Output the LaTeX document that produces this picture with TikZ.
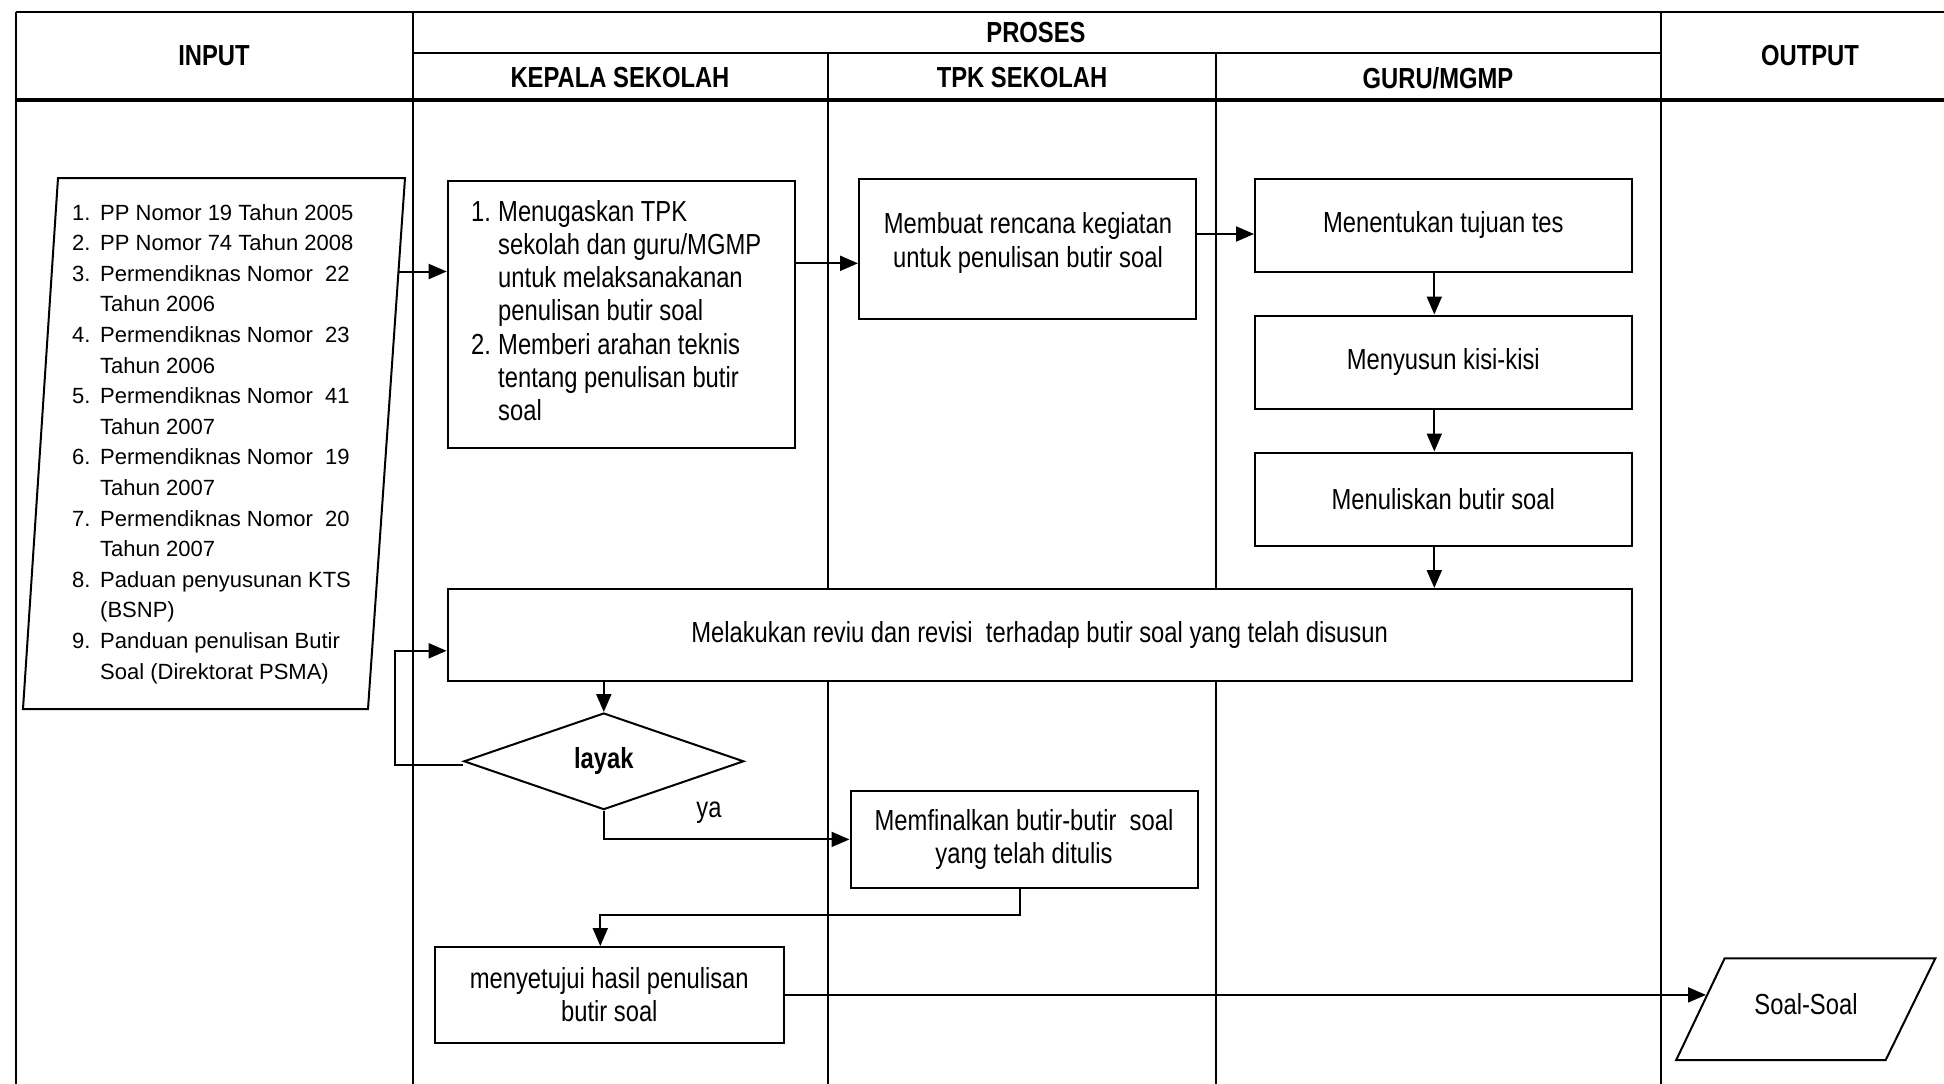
\documentclass[tikz,border=0pt]{standalone}
\usepackage{fontspec}
\setmainfont{Liberation Sans}
\newfontfamily\narrowsf[FakeStretch=0.82]{Liberation Sans}
\usetikzlibrary{arrows.meta,shapes.geometric,positioning}
\newcommand{\boxfont}{\narrowsf\fontsize{29}{33.3}\selectfont}
\newcommand{\listfont}{\fontsize{22}{30.6}\selectfont}

\begin{document}
\begin{tikzpicture}[x=1pt,y=-1pt,
    box/.style={draw,line width=2pt,fill=white,inner sep=0pt,align=center,font=\boxfont},
    head/.style={font=\boxfont\bfseries},
    lane/.style={line width=1.5pt},
    line/.style={line width=2pt},
    arr/.style={line width=2pt,-{Triangle[length=18pt,width=15pt]}}]

  \useasboundingbox (0,0) rectangle (1944,1084);

  % Swimlane frame
  \draw[line] (16,12) -- (1944,12);
  \draw[line width=2.5pt] (413,53) -- (1661,53);
  \draw[line width=4.5pt] (16,100) -- (1944,100);
  \draw[lane] (16,12) -- (16,1084);
  \draw[lane] (413,12) -- (413,1084);
  \draw[lane] (828,53) -- (828,1084);
  \draw[lane] (1216,53) -- (1216,1084);
  \draw[lane] (1661,12) -- (1661,1084);

  % Header labels
  \node[head] (hinput) at (214,56) {INPUT};
  \node[head] (hproses) at (1036,33) {PROSES};
  \node[head] (houtput) at (1810,56) {OUTPUT};
  \node[head] (hkepala) at (620,78) {KEPALA SEKOLAH};
  \node[head] (htpk) at (1022,78) {TPK SEKOLAH};
  \node[head] (hguru) at (1438,78) {GURU/MGMP};

  % Input
  \draw[line,fill=white] (58,178) -- (405,178) -- (368,709) -- (23,709) -- cycle;
  \coordinate (inR) at (398.5,271.5);
  \node[anchor=north west,inner sep=0pt,font=\listfont] (inlist) at (72,198.5) {%
    \begin{tabular}{@{}p{28pt}@{}l@{}}
      1. & PP Nomor 19 Tahun 2005\\
      2. & PP Nomor 74 Tahun 2008\\
      3. & Permendiknas Nomor\ \ 22\\
         & Tahun 2006\\
      4. & Permendiknas Nomor\ \ 23\\
         & Tahun 2006\\
      5. & Permendiknas Nomor\ \ 41\\
         & Tahun 2007\\
      6. & Permendiknas Nomor\ \ 19\\
         & Tahun 2007\\
      7. & Permendiknas Nomor\ \ 20\\
         & Tahun 2007\\
      8. & Paduan penyusunan KTS\\
         & (BSNP)\\
      9. & Panduan penulisan Butir\\
         & Soal (Direktorat PSMA)
    \end{tabular}};

  % Kepala sekolah
  \node[box,minimum width=347pt,minimum height=266.6pt] (kepala) at (621.2,314.3) {%
    \begin{tabular}{@{}p{27pt}@{}p{273pt}@{}}
      1. & Menugaskan TPK\\
         & sekolah dan guru/MGMP\\
         & untuk melaksanakanan\\
         & penulisan butir soal\\
      2. & Memberi arahan teknis\\
         & tentang penulisan butir\\
         & soal
    \end{tabular}};

  % TPK sekolah
  \node[box,minimum width=337pt,minimum height=140pt] (tpk) at (1027.5,248.5) {};
  \node[font=\boxfont,align=center] (tpktext) at (1028,243) {Membuat rencana kegiatan\\untuk penulisan butir soal};

  % Guru/MGMP
  \node[box,minimum width=376.6pt,minimum height=93pt] (tujuan) at (1443.3,225) {Menentukan tujuan tes};
  \node[box,minimum width=376.6pt,minimum height=93pt] (kisi) at (1443.3,362) {Menyusun kisi-kisi};
  \node[box,minimum width=376.6pt,minimum height=93pt] (tulis) at (1443.3,499) {Menuliskan butir soal};

  % Review and decision
  \node[box,minimum width=1184pt,minimum height=91.6pt] (review) at (1039.6,634.8) {Melakukan reviu dan revisi\ \ terhadap butir soal yang telah disusun};
  \node[diamond,draw,line width=2pt,fill=white,minimum width=280pt,minimum height=96.6pt,inner sep=0pt,font=\boxfont\bfseries] (layak) at (603.8,761.3) {layak};
  \node[font=\boxfont] (ya) at (709,813) {ya};
  \node[box,minimum width=347pt,minimum height=96.7pt] (final) at (1024,839.4) {Memfinalkan butir-butir\ \ soal\\yang telah ditulis};
  \node[box,minimum width=348.5pt,minimum height=95.7pt] (setuju) at (609.3,994.9) {menyetujui hasil penulisan\\butir soal};

  % Output
  \draw[line,fill=white] (1724.6,958.4) -- (1935.3,958.4) -- (1885.7,1060) -- (1676.2,1060) -- cycle;
  \node[font=\boxfont] (soal) at (1806,1004) {Soal-Soal};
  \coordinate (outL) at (1706,994.9);

  % Arrows
  \draw[arr] (inR) -- (kepala.west |- inR);
  \coordinate (k2t) at ([yshift=51pt]kepala.east);
  \draw[arr] (k2t) -- (tpk.west |- k2t);
  \coordinate (t2g) at ([yshift=14.5pt]tpk.east);
  \draw[arr] (t2g) -- (tujuan.west |- t2g);
  \draw[arr] ([xshift=-9pt]tujuan.south) -- ([xshift=-9pt]kisi.north);
  \draw[arr] ([xshift=-9pt]kisi.south) -- ([xshift=-9pt]tulis.north);
  \coordinate (t2r) at ([xshift=-9pt]tulis.south);
  \draw[arr] (t2r) -- (t2r |- review.north);
  \draw[arr] (review.south -| layak.north) -- (layak.north);
  \draw[arr] ([yshift=-4pt]layak.west) -- ++(-68,0) |- ([yshift=-16pt]review.west);
  \draw[arr] (layak.south) |- (final.west);
  \draw[arr] ([xshift=-4pt]final.south) -- ++(0,26) -| ([xshift=-9pt]setuju.north);
  \draw[arr] (setuju.east) -- (outL);
\end{tikzpicture}
\end{document}
